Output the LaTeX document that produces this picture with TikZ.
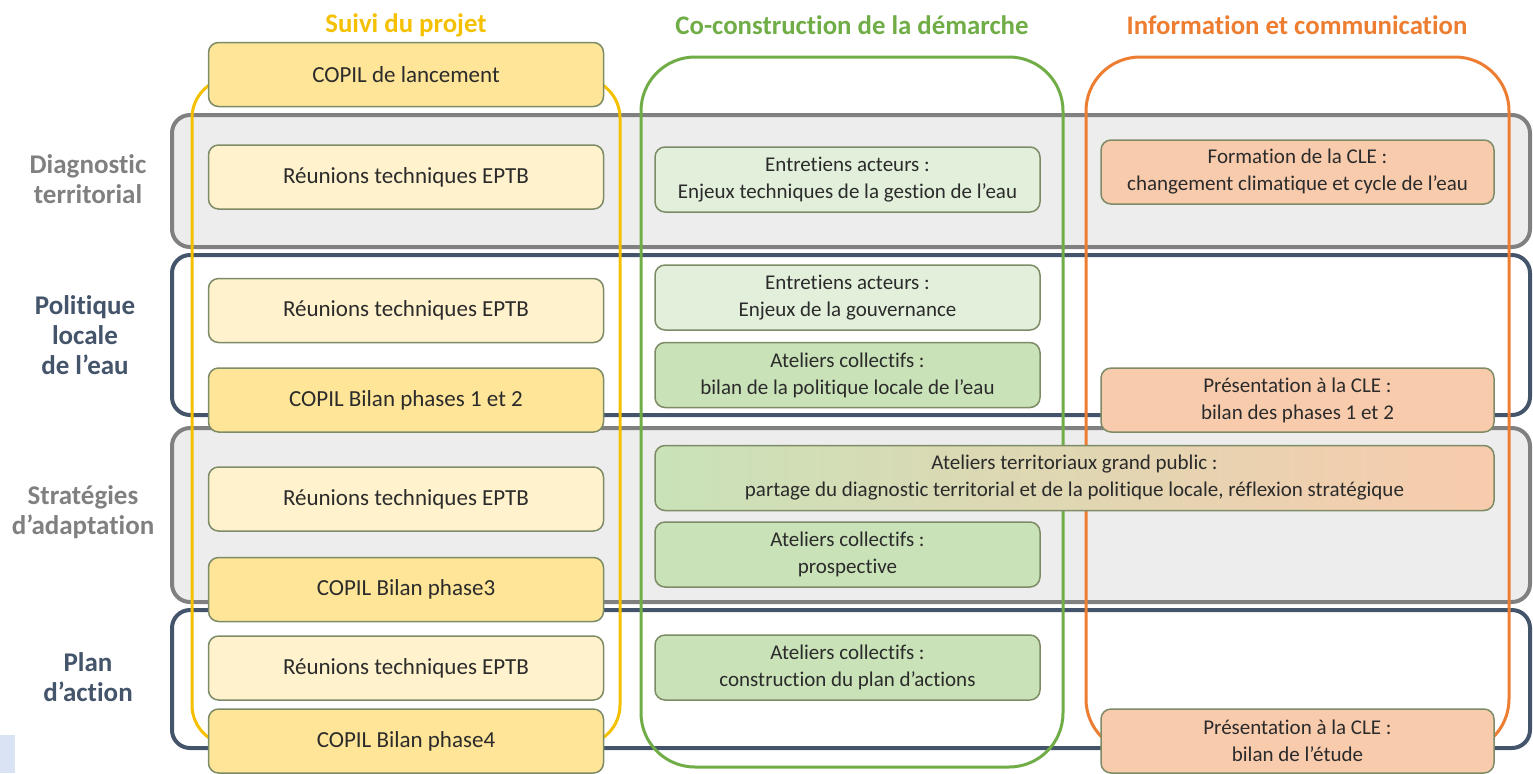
\documentclass[tikz,border=0pt]{standalone}
\usepackage{fontspec}
\setmainfont{Carlito}[Ligatures=NoCommon]

\definecolor{ygold}{HTML}{F5C000}
\definecolor{ggreen}{HTML}{70AD47}
\definecolor{oorange}{HTML}{ED7D31}
\definecolor{greylab}{HTML}{808080}
\definecolor{slate}{HTML}{44546A}
\definecolor{bandgrey}{HTML}{EDEDED}
\definecolor{ylight}{HTML}{FFF2CC}
\definecolor{ydark}{HTML}{FFE597}
\definecolor{glight}{HTML}{E2EFDA}
\definecolor{gdark}{HTML}{C9E2B8}
\definecolor{peach}{HTML}{F8CBAD}
\definecolor{boxline}{HTML}{7D8C66}
\definecolor{txt}{HTML}{2B2B2B}
\definecolor{paleblue}{HTML}{DAE3F3}

\tikzstyle{px}=[x=0.5pt,y=-0.5pt]
\tikzstyle{box}=[draw=boxline,line width=0.75pt,rounded corners=5pt,inner sep=0pt,align=center,text=txt,font=\fontsize{11.5}{13.5}\selectfont]
\tikzstyle{ybox}=[box,minimum width=197.5pt,minimum height=32pt]
\tikzstyle{gbox}=[box,minimum width=192.5pt,minimum height=32.5pt,font=\fontsize{10.5}{13.5}\selectfont]
\tikzstyle{obox}=[box,fill=peach,minimum width=196.5pt,minimum height=32pt,font=\fontsize{10.5}{13.5}\selectfont]
\tikzstyle{band}=[rounded corners=9pt,line width=2pt]
\tikzstyle{column}=[line width=1.5pt]
\tikzstyle{phase}=[align=center,font=\bfseries\fontsize{13.5}{15}\selectfont]
\tikzstyle{head}=[font=\bfseries\fontsize{13.4}{15}\selectfont]

\begin{document}
\begin{tikzpicture}[px]
	\useasboundingbox (0,0) rectangle (1533,773);
	\fill[paleblue] (0,735) rectangle (15,773);
%
	\draw[band,draw=greylab,fill=bandgrey] (172,115) rectangle (1530,247);
	\draw[band,draw=slate,fill=white] (172,255) rectangle (1530,415);
	\draw[band,draw=greylab,fill=bandgrey] (172,428) rectangle (1530,602);
	\draw[band,draw=slate,fill=white] (172,610) rectangle (1530,748);
%
	\draw[column,draw=ygold,rounded corners=20pt] (192,78) rectangle (620,745);
	\draw[column,draw=ggreen,rounded corners=27pt] (641,57) rectangle (1063,767);
	\draw[column,draw=oorange,rounded corners=27pt] (1086,57) rectangle (1509,753);
%
	\node[head,text=ygold] (hsuivi) at (406,25) {Suivi du projet};
	\node[head,text=ggreen] (hcoco) at (852,25) {Co-construction de la démarche};
	\node[head,text=oorange] (hinfo) at (1297,25) {Information et communication};
%
	\node[phase,text=greylab] (pdiag) at (88,179) {Diagnostic\\territorial};
	\node[phase,text=slate] (ppol) at (85,335) {Politique\\locale\\de l’eau};
	\node[phase,text=greylab] (pstrat) at (83,512) {Stratégies\\d’adaptation};
	\node[phase,text=slate] (pplan) at (88,677) {Plan\\d’action};
%
	\node[ybox,fill=ydark] (copil0) at (406,74.5) {COPIL de lancement};
	\node[ybox,fill=ylight] (reu1) at (406,177) {Réunions techniques EPTB};
	\node[ybox,fill=ylight] (reu2) at (406,310.5) {Réunions techniques EPTB};
	\node[ybox,fill=ydark] (copil12) at (406,400) {COPIL Bilan phases 1 et 2};
	\node[ybox,fill=ylight] (reu3) at (406,499) {Réunions techniques EPTB};
	\node[ybox,fill=ydark] (copil3) at (406,589.5) {COPIL Bilan phase3};
	\node[ybox,fill=ylight] (reu4) at (406,668) {Réunions techniques EPTB};
	\node[ybox,fill=ydark] (copil4) at (406,741) {COPIL Bilan phase4};
%
	\node[gbox,fill=glight] (ent1) at (847.5,179.5) {Entretiens acteurs :\\Enjeux techniques de la gestion de l’eau};
	\node[gbox,fill=glight] (ent2) at (847.5,297.5) {Entretiens acteurs :\\Enjeux de la gouvernance};
	\node[gbox,fill=gdark] (atel1) at (847.5,375) {Ateliers collectifs :\\bilan de la politique locale de l’eau};
	\node[gbox,left color=gdark,right color=peach,minimum width=419.5pt] (territ) at (1074.5,478)
		{Ateliers territoriaux grand public :\\partage du diagnostic territorial et de la politique locale, réflexion stratégique};
	\node[gbox,fill=gdark] (atel2) at (847.5,554.5) {Ateliers collectifs :\\prospective};
	\node[gbox,fill=gdark] (atel3) at (847.5,667.5) {Ateliers collectifs :\\construction du plan d’actions};
%
	\node[obox] (form) at (1297.5,172) {Formation de la CLE :\\changement climatique et cycle de l’eau};
	\node[obox] (pres1) at (1297.5,400) {Présentation à la CLE :\\bilan des phases 1 et 2};
	\node[obox] (pres2) at (1297.5,741) {Présentation à la CLE :\\bilan de l’étude};
\end{tikzpicture}
\end{document}
